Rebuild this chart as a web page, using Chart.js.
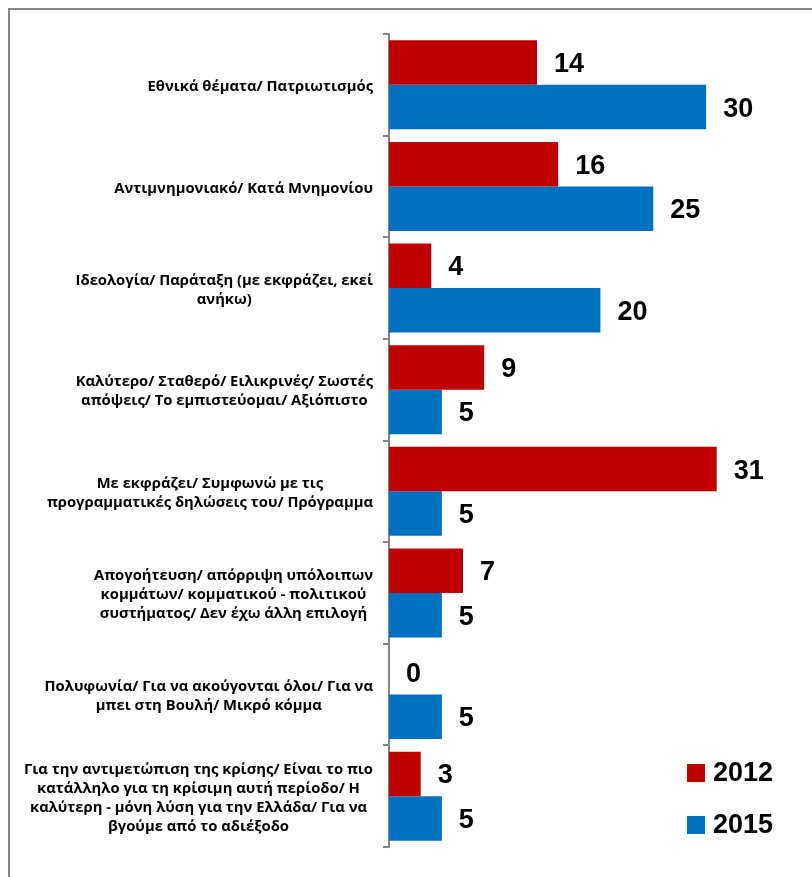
<!DOCTYPE html>
<html>
<head>
<meta charset="utf-8">
<script src="https://cdn.jsdelivr.net/npm/chart.js@4.4.1/dist/chart.umd.min.js"></script>
<style>
    html, body { margin: 0; padding: 0; background: #ffffff; overflow: hidden; }
    #wrap { position: relative; width: 812px; height: 877px; }
    #frame {
        position: absolute; left: 8px; top: 8px; width: 820px; height: 890px;
        border-left: 2px solid #868686; border-top: 2px solid #868686;
        pointer-events: none;
    }
</style>
</head>
<body>
<div id="wrap">
    <canvas id="chart" width="812" height="877"></canvas>
    <div id="frame"></div>
</div>
<script>
// category labels, already split into lines the way the original wraps them
const categories = [
    ['Εθνικά θέματα/ Πατριωτισμός'],
    ['Αντιμνημονιακό/ Κατά Μνημονίου'],
    ['Ιδεολογία/ Παράταξη (με εκφράζει, εκεί', 'ανήκω)'],
    ['Καλύτερο/ Σταθερό/ Ειλικρινές/ Σωστές', 'απόψεις/ Το εμπιστεύομαι/ Αξιόπιστο'],
    ['Με εκφράζει/ Συμφωνώ με τις', 'προγραμματικές δηλώσεις του/ Πρόγραμμα'],
    ['Απογοήτευση/ απόρριψη υπόλοιπων', 'κομμάτων/ κομματικού - πολιτικού', 'συστήματος/ Δεν έχω άλλη επιλογή'],
    ['Πολυφωνία/ Για να ακούγονται όλοι/ Για να', 'μπει στη Βουλή/ Μικρό κόμμα'],
    ['Για την αντιμετώπιση της κρίσης/ Είναι το πιο', 'κατάλληλο για τη κρίσιμη αυτή περίοδο/ Η', 'καλύτερη - μόνη λύση για την Ελλάδα/ Για να', 'βγούμε από το αδιέξοδο']
];
const values2012 = [14, 16, 4, 9, 31, 7, 0, 3];
const values2015 = [30, 25, 20, 5, 5, 5, 5, 5];
const seriesNames = ['2012', '2015'];

const RED = '#C00000';
const BLUE = '#0070C0';
const AXIS_GREY = '#868686';
const LABEL_FONT = 'bold 14.8px "Open Sans", "Noto Sans", sans-serif';
const VALUE_FONT = 'bold 27px "Liberation Sans", Arial, sans-serif';

// category labels: each block right-aligned against the axis, lines centred inside it
const categoryLabels = {
    id: 'categoryLabels',
    afterDraw(chart) {
        const { ctx } = chart;
        const yScale = chart.scales.y;
        const right = chart.chartArea.left - 16;
        const lineH = 19;
        ctx.save();
        ctx.font = LABEL_FONT;
        ctx.fillStyle = '#000000';
        ctx.textAlign = 'center';
        ctx.textBaseline = 'middle';
        chart.data.labels.forEach((lines, i) => {
            const widest = Math.max(...lines.map(l => ctx.measureText(l).width));
            const cx = right - widest / 2;
            const cy = yScale.getPixelForValue(i) + 2;
            const y0 = cy - (lines.length - 1) * lineH / 2;
            lines.forEach((l, k) => ctx.fillText(l, cx, y0 + k * lineH));
        });
        ctx.restore();
    }
};

// value printed after each bar end
const valueLabels = {
    id: 'valueLabels',
    afterDatasetsDraw(chart) {
        const { ctx } = chart;
        ctx.save();
        ctx.font = VALUE_FONT;
        ctx.fillStyle = '#000000';
        ctx.textAlign = 'left';
        ctx.textBaseline = 'middle';
        chart.data.datasets.forEach((ds, di) => {
            chart.getDatasetMeta(di).data.forEach((bar, i) => {
                ctx.fillText(String(ds.data[i]), bar.x + 17, bar.y + 2);
            });
        });
        ctx.restore();
    }
};

// legend in the lower right corner
const cornerLegend = {
    id: 'cornerLegend',
    afterDraw(chart) {
        const { ctx } = chart;
        ctx.save();
        ctx.font = VALUE_FONT;
        ctx.textAlign = 'left';
        ctx.textBaseline = 'middle';
        chart.data.datasets.forEach((ds, di) => {
            const y = 773 + di * 52;
            ctx.fillStyle = ds.backgroundColor;
            ctx.fillRect(687, y - 9, 18, 18);
            ctx.fillStyle = '#000000';
            ctx.fillText(ds.label, 713, y + 1);
        });
        ctx.restore();
    }
};

new Chart(document.getElementById('chart').getContext('2d'), {
    type: 'bar',
    data: {
        labels: categories,
        datasets: [
            { label: seriesNames[0], data: values2012, backgroundColor: RED },
            { label: seriesNames[1], data: values2015, backgroundColor: BLUE }
        ]
    },
    options: {
        indexAxis: 'y',
        responsive: false,
        animation: false,
        events: [],
        datasets: {
            bar: { categoryPercentage: 0.876, barPercentage: 1.0 }
        },
        layout: {
            padding: { left: 0, right: 53, top: 34, bottom: 30 }
        },
        plugins: {
            legend: { display: false },
            tooltip: { enabled: false }
        },
        scales: {
            x: {
                display: false,
                min: 0,
                max: 35
            },
            y: {
                afterFit: (scale) => { scale.width = 389; },
                grid: {
                    drawOnChartArea: false,
                    drawTicks: true,
                    tickLength: 6,
                    color: AXIS_GREY,
                    lineWidth: 2,
                    offset: true
                },
                border: { display: true, color: AXIS_GREY, width: 2 },
                ticks: { display: false }
            }
        }
    },
    plugins: [categoryLabels, valueLabels, cornerLegend]
});
</script>
</body>
</html>
